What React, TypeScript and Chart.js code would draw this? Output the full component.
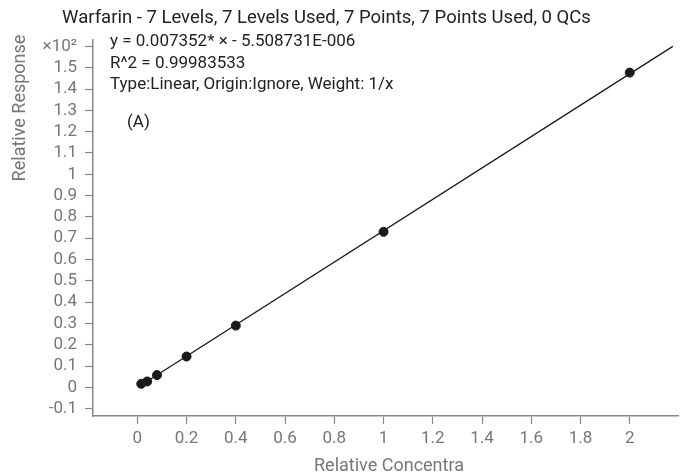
import React, { useEffect, useRef } from "react";
import { Chart, registerables } from "chart.js";

Chart.register(...registerables);

const pointX = [0.016, 0.04, 0.08, 0.2, 0.4, 1.0, 2.0];
const pointY = [0.017, 0.028, 0.058, 0.145, 0.29, 0.73, 1.477];
const fitX = [0.01, 2.175];
const fitY = [0.007, 1.6];
const xTicks = [0, 0.2, 0.4, 0.6, 0.8, 1, 1.2, 1.4, 1.6, 1.8, 2];
const yTicks = [-0.1, 0, 0.1, 0.2, 0.3, 0.4, 0.5, 0.6, 0.7, 0.8, 0.9, 1, 1.1, 1.2, 1.3, 1.4, 1.5, 1.6];
const titleText = "Warfarin - 7 Levels, 7 Levels Used, 7 Points, 7 Points Used, 0 QCs";
const infoLines = [
  "y = 0.007352* \u00d7 - 5.508731E-006",
  "R^2 = 0.99983533",
  "Type:Linear, Origin:Ignore, Weight: 1/x",
];
const panelLabel = "(A)";
const xTitle = "Relative Concentra";
const yTitle = "Relative Response";
const yMultiplier = "\u00d710\u00b2";

const FONT = "Roboto, 'Noto Sans', sans-serif";

function fmt(v: number): string {
  const r = Math.round(v * 10) / 10;
  return String(r);
}

export default function App() {
  const ref = useRef<HTMLCanvasElement>(null);
  useEffect(() => {
    if (!ref.current) return;
    const textPlugin = {
      id: "texts",
      afterDraw(chart: any) {
        const ctx = chart.ctx;
        ctx.save();
        ctx.textBaseline = "middle";
        ctx.fillStyle = "#222";
        ctx.font = `18.5px ${FONT}`;
        ctx.textAlign = "center";
        ctx.fillText(titleText, 326.5, 18);
        ctx.font = `17px ${FONT}`;
        ctx.textAlign = "left";
        infoLines.forEach((t, i) => ctx.fillText(t, 110, 42 + i * 21.5));
        ctx.fillText(panelLabel, 127, 123);
        ctx.fillStyle = "#777";
        ctx.textAlign = "center";
        ctx.font = `18px ${FONT}`;
        ctx.fillText(xTitle, 389, 466);
        ctx.translate(20, 108);
        ctx.rotate(-Math.PI / 2);
        ctx.fillText(yTitle, 0, 0);
        ctx.restore();
      },
    };
    const chart = new Chart(ref.current, {
      type: "scatter",
      data: {
        datasets: [
          {
            data: pointX.map((x, i) => ({ x, y: pointY[i] })),
            backgroundColor: "#1a1a1a",
            borderColor: "#1a1a1a",
            pointRadius: 4.5,
            showLine: false,
            order: 0,
          },
          {
            data: fitX.map((x, i) => ({ x, y: fitY[i] })),
            borderColor: "#1a1a1a",
            borderWidth: 1.3,
            pointRadius: 0,
            showLine: true,
            order: 1,
          },
        ],
      },
      options: {
        animation: false,
        responsive: false,
        layout: { padding: { left: 0, right: 11, top: 40, bottom: 0 } },
        plugins: { legend: { display: false }, tooltip: { enabled: false }, title: { display: false } },
        scales: {
          x: {
            type: "linear",
            min: -0.18,
            max: 2.196,
            afterFit: (s: any) => { s.height = 59; },
            afterBuildTicks: (s: any) => { s.ticks = xTicks.map((v) => ({ value: v })); },
            grid: { drawOnChartArea: false, color: "#888", tickLength: 8, tickWidth: 1.2 },
            border: { color: "#888", width: 1.5 },
            ticks: { autoSkip: false, maxRotation: 0, color: "#777", font: { family: FONT, size: 17 }, padding: 5, callback: (v: any) => fmt(Number(v)) },
          },
          y: {
            type: "linear",
            min: -0.134,
            max: 1.63,
            afterFit: (s: any) => { s.width = 93; },
            afterBuildTicks: (s: any) => { s.ticks = yTicks.map((v) => ({ value: v })); },
            grid: { drawOnChartArea: false, color: "#888", tickLength: 8, tickWidth: 1.2 },
            border: { color: "#888", width: 1.5 },
            ticks: {
              autoSkip: false,
              color: "#777",
              font: { family: FONT, size: 17 },
              padding: 8,
              callback: (v: any) => (Math.abs(Number(v) - 1.6) < 1e-6 ? yMultiplier : fmt(Number(v))),
            },
          },
        },
      },
      plugins: [textPlugin],
    });
    return () => chart.destroy();
  }, []);
  return (
    <div style={{ position: "fixed", left: 0, top: 0, width: 689, height: 475, background: "#fff" }}>
      <canvas ref={ref} width={689} height={475} style={{ width: 689, height: 475 }} />
    </div>
  );
}
